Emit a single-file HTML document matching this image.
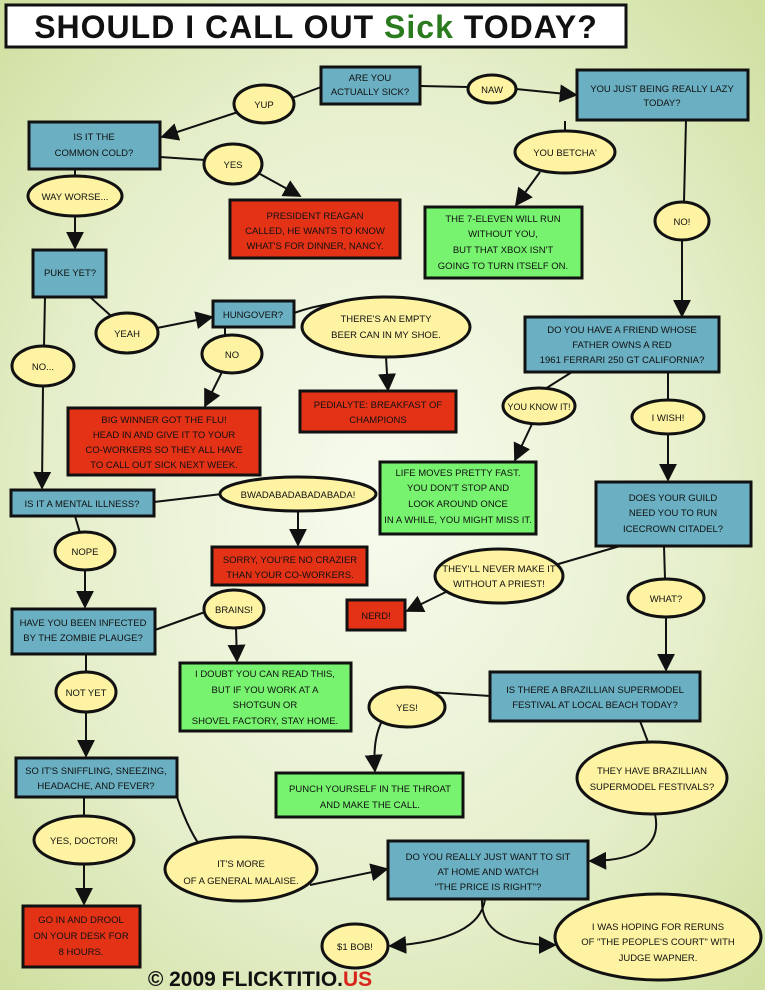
<!DOCTYPE html>
<html><head><meta charset="utf-8"><style>
html,body{margin:0;padding:0;width:765px;height:990px;overflow:hidden}
svg{display:block}
text{font-family:"Liberation Sans",sans-serif;font-size:9.5px;text-anchor:middle;fill:#111}
.b{fill:#6aafc2;stroke:#111;stroke-width:3}
.r{fill:#e43217;stroke:#111;stroke-width:3}
.g{fill:#77f36f;stroke:#111;stroke-width:3}
.e{fill:#fdf3a3;stroke:#111;stroke-width:3}
.l{fill:none;stroke:#111;stroke-width:2}
</style></head><body>
<svg width="765" height="990" viewBox="0 0 765 990" xmlns="http://www.w3.org/2000/svg">
<defs>
<radialGradient id="bg" cx="50%" cy="50%" r="70%">
<stop offset="0" stop-color="#f7fbee"/><stop offset="0.6" stop-color="#e6efcc"/><stop offset="1" stop-color="#cfe0a0"/></radialGradient>
<marker id="A" viewBox="0 0 10 10" refX="9" refY="5" markerWidth="18" markerHeight="18" orient="auto" markerUnits="userSpaceOnUse"><path d="M0,0L10,5L0,10z" fill="#111"/></marker>
</defs>
<rect width="765" height="990" fill="url(#bg)"/>
<rect x="6" y="5" width="620" height="42" fill="#fff" stroke="#111" stroke-width="3"/>
<text x="316" y="38" style="font-size:32px;font-weight:bold;letter-spacing:1px">SHOULD I CALL OUT <tspan fill="#2a7a1e">Sick</tspan> TODAY?</text>

<g class="l">
<path d="M321,87 L292,98"/><path d="M420,86 L468,87"/><path d="M160,157 L205,160"/>
<path d="M686,120 L684,202"/><path d="M565,121 L565,131"/><path d="M75,169 L75,176"/>
<path d="M90,297 L110,315"/><path d="M294,313 Q330,300 380,300"/><path d="M225,327 L225,337"/>
<path d="M45,297 L44,346"/><path d="M572,372 L545,389"/><path d="M668,372 L668,400"/>
<path d="M154,502 L222,494"/><path d="M75,516 L80,533"/><path d="M620,546 L555,565"/>
<path d="M664,546 L665,579"/><path d="M155,630 L205,612"/><path d="M86,654 L86,672"/>
<path d="M490,696 Q430,692 425,692"/><path d="M640,721 L648,742"/><path d="M84,797 L84,816"/>
<path d="M177,797 Q190,835 205,852"/>
</g>
<g marker-end="url(#A)" class="l">
<path d="M238,112 L162,137"/><path d="M516,89 L576,95"/><path d="M260,174 L300,196"/>
<path d="M682,240 L682,316"/><path d="M540,172 L516,205"/><path d="M75,216 L75,248"/>
<path d="M157,328 L212,317"/><path d="M386,357 L388,390"/><path d="M222,372 L205,406"/>
<path d="M43,386 L42,488"/><path d="M532,424 L515,460"/><path d="M668,434 L668,480"/>
<path d="M298,511 L298,545"/><path d="M85,570 L85,607"/><path d="M450,590 L407,611"/>
<path d="M666,617 L666,670"/><path d="M236,628 L237,661"/><path d="M86,712 L86,756"/>
<path d="M385,716 Q372,735 375,771"/><path d="M655,814 Q665,860 590,861"/>
<path d="M84,864 L84,904"/><path d="M310,885 L387,869"/>
<path d="M485,899 Q480,940 390,946"/><path d="M482,899 Q480,945 555,945"/>
</g>

<rect class="b" x="321" y="67" width="99" height="37"/><text x="370" y="81">ARE YOU</text><text x="370" y="95">ACTUALLY SICK?</text>
<rect class="b" x="577" y="70" width="171" height="50"/><text x="662" y="92">YOU JUST BEING REALLY LAZY</text><text x="662" y="106">TODAY?</text>
<rect class="b" x="29" y="122" width="131" height="47"/><text x="94" y="140">IS IT THE</text><text x="94" y="156">COMMON COLD?</text>
<rect class="r" x="230" y="200" width="170" height="58"/><text x="315" y="219">PRESIDENT REAGAN</text><text x="315" y="234">CALLED, HE WANTS TO KNOW</text><text x="315" y="249">WHAT'S FOR DINNER, NANCY.</text>
<rect class="g" x="425" y="207" width="157" height="71"/><text x="503" y="222">THE 7-ELEVEN WILL RUN</text><text x="503" y="237">WITHOUT YOU,</text><text x="503" y="253">BUT THAT XBOX ISN'T</text><text x="503" y="269">GOING TO TURN ITSELF ON.</text>
<rect class="b" x="33" y="250" width="73" height="47"/><text x="70" y="276">PUKE YET?</text>
<rect class="b" x="213" y="301" width="81" height="26"/><text x="253" y="318">HUNGOVER?</text>
<rect class="r" x="300" y="391" width="156" height="41"/><text x="378" y="408">PEDIALYTE: BREAKFAST OF</text><text x="378" y="423">CHAMPIONS</text>
<rect class="r" x="68" y="408" width="192" height="67"/><text x="164" y="423">BIG WINNER GOT THE FLU!</text><text x="164" y="438">HEAD IN AND GIVE IT TO YOUR</text><text x="164" y="453">CO-WORKERS SO THEY ALL HAVE</text><text x="164" y="468">TO CALL OUT SICK NEXT WEEK.</text>
<rect class="b" x="525" y="317" width="194" height="55"/><text x="622" y="333">DO YOU HAVE A FRIEND WHOSE</text><text x="622" y="348">FATHER OWNS A RED</text><text x="622" y="363">1961 FERRARI 250 GT CALIFORNIA?</text>
<rect class="g" x="380" y="462" width="156" height="72"/><text x="458" y="476">LIFE MOVES PRETTY FAST.</text><text x="458" y="491">YOU DON'T STOP AND</text><text x="458" y="507">LOOK AROUND ONCE</text><text x="458" y="523">IN A WHILE, YOU MIGHT MISS IT.</text>
<rect class="b" x="11" y="490" width="143" height="26"/><text x="82" y="507">IS IT A MENTAL ILLNESS?</text>
<rect class="r" x="212" y="547" width="155" height="38"/><text x="290" y="563">SORRY, YOU'RE NO CRAZIER</text><text x="290" y="578">THAN YOUR CO-WORKERS.</text>
<rect class="b" x="596" y="482" width="155" height="64"/><text x="673" y="501">DOES YOUR GUILD</text><text x="673" y="516">NEED YOU TO RUN</text><text x="673" y="532">ICECROWN CITADEL?</text>
<rect class="r" x="347" y="600" width="58" height="30"/><text x="376" y="619">NERD!</text>
<rect class="b" x="12" y="609" width="143" height="45"/><text x="83" y="626">HAVE YOU BEEN INFECTED</text><text x="83" y="641">BY THE ZOMBIE PLAUGE?</text>
<rect class="g" x="180" y="663" width="171" height="68"/><text x="265" y="677">I DOUBT YOU CAN READ THIS,</text><text x="265" y="693">BUT IF YOU WORK AT A</text><text x="265" y="708">SHOTGUN OR</text><text x="265" y="724">SHOVEL FACTORY, STAY HOME.</text>
<rect class="b" x="490" y="672" width="210" height="49"/><text x="595" y="693">IS THERE A BRAZILLIAN SUPERMODEL</text><text x="595" y="708">FESTIVAL AT LOCAL BEACH TODAY?</text>
<rect class="g" x="276" y="773" width="187" height="44"/><text x="370" y="792">PUNCH YOURSELF IN THE THROAT</text><text x="370" y="808">AND MAKE THE CALL.</text>
<rect class="b" x="16" y="758" width="161" height="39"/><text x="96" y="774">SO IT'S SNIFFLING, SNEEZING,</text><text x="96" y="789">HEADACHE, AND FEVER?</text>
<rect class="b" x="388" y="841" width="200" height="58"/><text x="488" y="860">DO YOU REALLY JUST WANT TO SIT</text><text x="488" y="875">AT HOME AND WATCH</text><text x="488" y="890">"THE PRICE IS RIGHT"?</text>
<rect class="r" x="23" y="906" width="117" height="61"/><text x="81" y="923">GO IN AND DROOL</text><text x="81" y="939">ON YOUR DESK FOR</text><text x="81" y="955">8 HOURS.</text>

<ellipse class="e" cx="264" cy="104" rx="30" ry="19"/><text x="264" y="108">YUP</text>
<ellipse class="e" cx="492" cy="89" rx="24" ry="14"/><text x="492" y="93">NAW</text>
<ellipse class="e" cx="233" cy="164" rx="29" ry="20"/><text x="233" y="168">YES</text>
<ellipse class="e" cx="565" cy="152" rx="50" ry="21"/><text x="565" y="156">YOU BETCHA'</text>
<ellipse class="e" cx="75" cy="196" rx="47" ry="20"/><text x="75" y="200">WAY WORSE...</text>
<ellipse class="e" cx="682" cy="221" rx="27" ry="19"/><text x="682" y="225">NO!</text>
<ellipse class="e" cx="127" cy="333" rx="31" ry="20"/><text x="127" y="337">YEAH</text>
<ellipse class="e" cx="386" cy="327" rx="84" ry="30"/><text x="386" y="322">THERE'S AN EMPTY</text><text x="386" y="338">BEER CAN IN MY SHOE.</text>
<ellipse class="e" cx="232" cy="354" rx="30" ry="19"/><text x="232" y="358">NO</text>
<ellipse class="e" cx="43" cy="366" rx="31" ry="20"/><text x="43" y="370">NO...</text>
<ellipse class="e" cx="539" cy="406" rx="36" ry="18"/><text x="539" y="410" style="font-size:9px">YOU KNOW IT!</text>
<ellipse class="e" cx="668" cy="417" rx="36" ry="17"/><text x="668" y="421">I WISH!</text>
<ellipse class="e" cx="298" cy="494" rx="78" ry="17"/><text x="298" y="498">BWADABADABADABADA!</text>
<ellipse class="e" cx="85" cy="551" rx="30" ry="19"/><text x="85" y="555">NOPE</text>
<ellipse class="e" cx="234" cy="609" rx="30" ry="19"/><text x="234" y="613">BRAINS!</text>
<ellipse class="e" cx="499" cy="576" rx="64" ry="27"/><text x="499" y="572">THEY'LL NEVER MAKE IT</text><text x="499" y="587">WITHOUT A PRIEST!</text>
<ellipse class="e" cx="666" cy="598" rx="38" ry="19"/><text x="666" y="602">WHAT?</text>
<ellipse class="e" cx="86" cy="692" rx="30" ry="20"/><text x="86" y="696">NOT YET</text>
<ellipse class="e" cx="407" cy="707" rx="38" ry="20"/><text x="407" y="711">YES!</text>
<ellipse class="e" cx="652" cy="778" rx="75" ry="36"/><text x="652" y="774">THEY HAVE BRAZILLIAN</text><text x="652" y="790">SUPERMODEL FESTIVALS?</text>
<ellipse class="e" cx="84" cy="840" rx="50" ry="24"/><text x="84" y="844">YES, DOCTOR!</text>
<ellipse class="e" cx="241" cy="869" rx="76" ry="32"/><text x="241" y="867">IT'S MORE</text><text x="241" y="884">OF A GENERAL MALAISE.</text>
<ellipse class="e" cx="355" cy="946" rx="33" ry="22"/><text x="355" y="950">$1 BOB!</text>
<ellipse class="e" cx="658" cy="937" rx="103" ry="43"/><text x="658" y="930">I WAS HOPING FOR RERUNS</text><text x="658" y="945">OF "THE PEOPLE'S COURT" WITH</text><text x="658" y="961">JUDGE WAPNER.</text>

<text x="260" y="986" style="font-size:21px;font-weight:bold">© 2009 FLICKTITIO.<tspan fill="#d8261c">US</tspan></text>
</svg>
</body></html>
